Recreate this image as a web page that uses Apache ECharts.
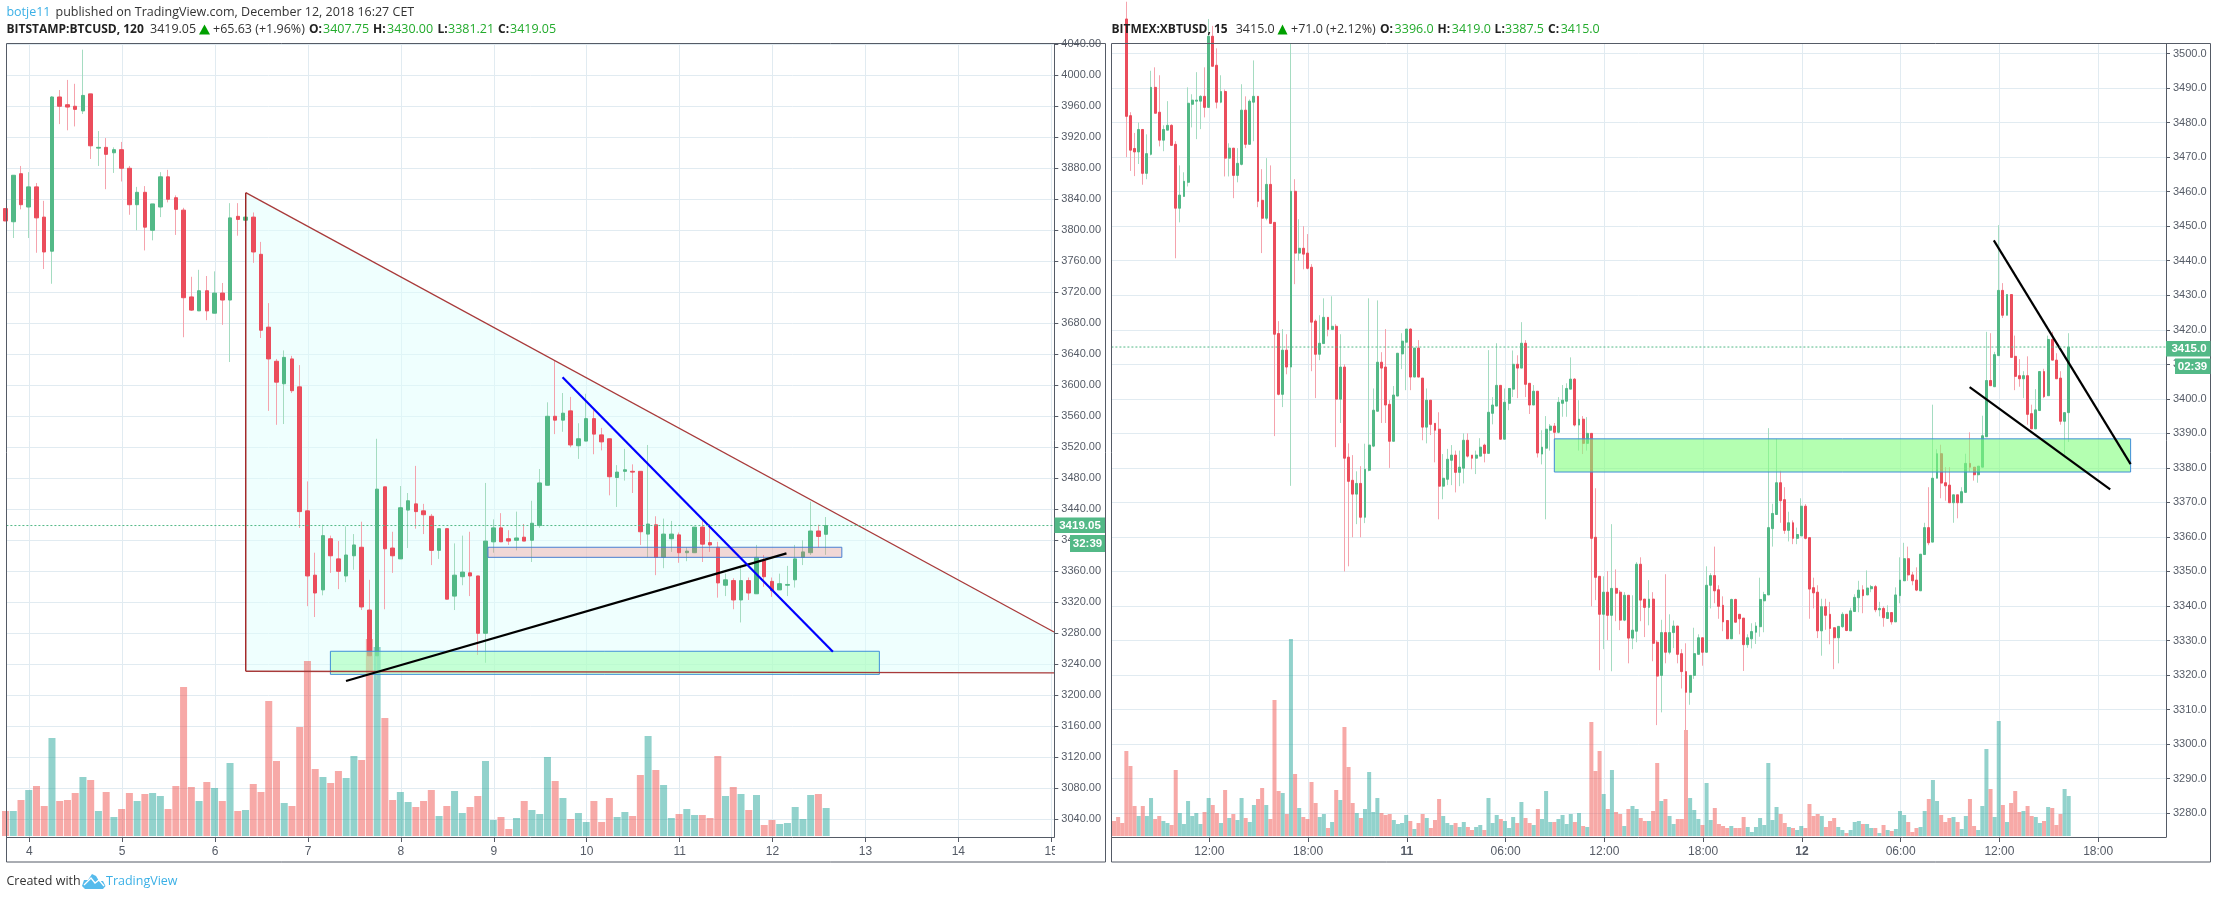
<!DOCTYPE html>
<html><head><meta charset="utf-8">
<style>html,body{margin:0;padding:0;background:#fff}#c{width:2217px;height:899px}</style>
<script src="https://cdn.jsdelivr.net/npm/echarts@6/dist/echarts.min.js"></script>
</head><body><div id="c"></div>
<script>
// Bitstamp 2h bars: [open, close, high, low]
const btcBars=[[3828,3812,3835,3805],[3811,3871,3871,3790],[3873,3833,3883,3827],[3830,3856,3875,3790],[3856,3816,3861,3771],[3817,3772,3838,3750],[3773,3972,3973,3731],[3972,3960,3981,3937],[3962,3959,3994,3929],[3960,3956,3989,3934],
[3954,3974,4033,3950],[3976,3909,3976,3892],[3906,3907,3928,3883],[3907,3898,3919,3853],[3900,3904,3907,3874],[3904,3880,3914,3863],[3880,3833,3883,3820],[3833,3849,3856,3800],[3849,3804,3857,3774],[3800,3834,3834,3787],
[3830,3869,3875,3817],[3869,3840,3878,3836],[3842,3827,3845,3794],[3826,3713,3829,3662],[3714,3697,3740,3696],[3696,3722,3749,3696],[3722,3696,3741,3684],[3693,3719,3747,3693],[3719,3710,3732,3678],[3710,3816,3835,3630],
[3818,3814,3835,3793],[3813,3817,3848,3805],[3817,3772,3823,3758],[3769,3671,3785,3661],[3675,3634,3706,3567],[3631,3604,3634,3549],[3602,3636,3645,3550],[3634,3593,3638,3590],[3598,3437,3626,3416],[3438,3354,3476,3315],
[3355,3332,3384,3301],[3336,3406,3420,3329],[3402,3380,3406,3358],[3376,3360,3399,3337],[3354,3381,3418,3346],[3380,3394,3408,3362],[3391,3314,3424,3310],[3310,3251,3349,3226],[3251,3466,3531,3220],[3469,3389,3469,3311],
[3390,3380,3411,3358],[3376,3442,3470,3376],[3439,3451,3461,3390],[3447,3437,3496,3415],[3438,3433,3447,3408],[3431,3387,3434,3368],[3387,3415,3415,3376],[3415,3324,3415,3324],[3328,3355,3396,3310],[3353,3359,3406,3342],
[3358,3354,3411,3328],[3354,3280,3354,3252],[3280,3399,3474,3242],[3398,3416,3427,3384],[3416,3398,3435,3398],[3402,3399,3413,3394],[3400,3403,3437,3387],[3404,3399,3421,3399],[3400,3422,3451,3372],[3419,3474,3492,3416],
[3471,3560,3578,3471],[3560,3555,3632,3537],[3555,3564,3590,3540],[3567,3523,3585,3520],[3522,3531,3551,3505],[3528,3557,3589,3528],[3557,3537,3568,3511],[3536,3527,3545,3516],[3531,3482,3531,3458],[3481,3488,3497,3443],
[3489,3491,3518,3477],[3489,3488,3498,3461],[3489,3411,3489,3394],[3408,3421,3523,3378],[3420,3378,3431,3355],[3378,3408,3428,3364],[3402,3408,3425,3385],[3407,3384,3410,3371],[3384,3386,3391,3373],[3384,3417,3417,3384],
[3417,3395,3427,3372],[3397,3394,3421,3385],[3391,3345,3398,3326],[3342,3349,3357,3328],[3348,3323,3351,3311],[3323,3348,3367,3294],[3348,3332,3352,3323],[3331,3378,3394,3331],[3374,3353,3381,3340],[3347,3335,3352,3327],
[3336,3344,3357,3336],[3342,3343,3367,3328],[3349,3376,3394,3339],[3378,3385,3400,3368],[3384,3412,3450,3381],[3412,3405,3420,3391],[3407.75,3419.05,3430,3381.21]];
const btcVolume=[25,25,36,46,50,30,98,35,36,43,59,56,25,44,19,27,43,35,42,43,40,27,50,149,49,35,54,48,35,73,25,26,52,44,135,75,33,30,109,175,67,59,53,65,58,80,76,197,189,118,36,44,34,29,35,46,20,30,45,23,29,40,75,16,19,7,18,35,26,22,79,55,38,17,23,14,35,14,38,19,24,20,61,100,66,51,18,22,27,21,21,18,80,40,49,42,26,41,11,16,12,13,29,17,41,42,28];
// BitMEX 15m bars: [open, close, high, low]
const xbtBars=[[3530,3525,3535,3520],[3525,3520,3530,3515],[3520,3515,3525,3510],[3510,3481.8,3515,3470],[3482,3472,3483,3466],[3472.5,3471.5,3477,3464.5],[3471.5,3478,3480,3468],[3478,3465.3,3478,3462],[3465.3,3471,3476.6,3463.6],[3470.8,3490.2,3495,3470.5],
[3490.2,3482.7,3496,3482.7],[3483,3474.9,3493.7,3473.1],[3474.9,3478,3479.2,3471.7],[3477.8,3479.2,3486.2,3477.8],[3479.2,3473.4,3479.5,3473.4],[3473.7,3455.2,3474.6,3440.7],[3455.2,3459,3467.6,3451.1],[3458.6,3463,3465.6,3458.6],[3462.7,3485.6,3490.2,3461.5],[3485.3,3486.5,3488.2,3478.6],
[3486.2,3486.5,3494.6,3475.2],[3486.2,3487.6,3487.9,3478.1],[3487.6,3484.4,3496,3481.5],[3484.4,3505,3510,3484.4],[3505,3496.3,3508,3496.3],[3496.6,3485.9,3501.5,3484.1],[3485.9,3489,3493.7,3485.6],[3489,3469.7,3489.6,3464.4],[3469.7,3472.6,3474,3464.4],[3472.6,3464.7,3472.6,3458.1],
[3464.7,3468.2,3472.6,3462.7],[3467.9,3483.6,3491.1,3467.6],[3483.6,3473.7,3487.6,3472.6],[3473.7,3486.2,3486.7,3473.7],[3485.9,3487.6,3498,3474.6],[3487.6,3457.2,3487.6,3455.5],[3457.5,3452.3,3466.5,3442.2],[3452.3,3462.1,3469.7,3451.7],[3462.1,3450.8,3467.6,3450.8],[3451.1,3418.7,3451.1,3389.2],
[3418.9,3401.3,3422.5,3401],[3401.3,3414.1,3420.2,3397.6],[3414.1,3409.2,3418.7,3407.1],[3409.2,3460.1,3503,3374.8],[3460.1,3442.2,3463.6,3433.2],[3442.2,3443.6,3452,3440],[3443.6,3441.9,3450,3437.5],[3442.2,3437.8,3447.7,3437.5],[3438.1,3422.2,3439,3408],[3422.5,3412.9,3423,3400.2],
[3412.9,3416.1,3424.2,3411.2],[3416,3423.6,3429.1,3416],[3423.6,3420.1,3423.6,3418.1],[3420.1,3421,3429.7,3420.1],[3421,3399.9,3421.6,3386],[3399.9,3409.2,3418.7,3393],[3409.2,3382.8,3410,3350],[3383.1,3376.1,3387.1,3351.5],[3376.4,3372.4,3383.7,3359.9],[3372.4,3375.5,3379,3363.7],
[3375.5,3365.7,3380.5,3359.9],[3365.7,3379.6,3387,3364],[3379.3,3386.6,3429.1,3379],[3386.3,3396.7,3403,3386],[3396.4,3410.6,3428.5,3396.4],[3410.6,3408.9,3413.5,3393],[3409.2,3398.2,3420.2,3393],[3398.4,3387.7,3399.6,3380],[3387.7,3401.1,3403.7,3387.7],[3400.8,3413.2,3413.2,3400.8],
[3413,3416.7,3419,3408.6],[3416.4,3420.2,3420.2,3402.5],[3420.2,3406.3,3420.4,3402.5],[3406.3,3414.7,3414.7,3406.3],[3414.7,3406.3,3417,3406.3],[3406,3391.8,3406,3388],[3391.8,3399.6,3403,3387.1],[3399.6,3392.6,3399.6,3389.5],[3392.9,3390.9,3392.9,3381.6],[3391.2,3374.7,3396.1,3365.1],
[3374.7,3377,3384,3370.9],[3376.7,3382.5,3385.5,3375],[3382.2,3383.7,3386.6,3375],[3383.7,3378.7,3385,3372.9],[3378.7,3380.2,3385,3374.7],[3379.9,3388,3390,3375.5],[3388,3383.4,3390,3383],[3383.7,3382.8,3383.7,3379.6],[3382.8,3383.7,3385,3378.2],[3383.4,3386,3388.6,3383.4],
[3386.6,3384.2,3387,3381.6],[3384.2,3396.1,3414.1,3384.2],[3395.8,3398.2,3400.5,3392.6],[3397.9,3403.9,3416.1,3397.9],[3403.9,3388.3,3403.9,3388.3],[3388.3,3399,3403,3388.3],[3398.7,3403,3403,3396.7],[3402.8,3410,3414,3400.5],[3410,3408.9,3412.6,3400.2],[3408.9,3416.1,3422.2,3408.9],
[3416.1,3404.2,3417,3400.5],[3404.5,3398.2,3404.5,3395.6],[3398.2,3402.2,3404,3398.2],[3402.2,3384.3,3402.2,3383],[3384,3386,3390.9,3381],[3385.7,3391.2,3395,3365.1],[3390.9,3392.1,3392.7,3385],[3392.1,3390.3,3393,3385],[3390.3,3399,3400.5,3390],[3398.7,3399.6,3404,3394.8],
[3399.3,3403,3404.5,3394.8],[3402.8,3405.7,3412,3402.8],[3405.7,3392.4,3406,3392],[3392.4,3394.1,3399.6,3385],[3394.1,3387.1,3395,3384],[3387.1,3390,3394.7,3385],[3390,3359.6,3390,3339.9],[3359.9,3348.3,3374.1,3341.7],[3348.6,3337.6,3348.6,3321.4],[3337.6,3344,3348.6,3327.5],
[3344,3337.3,3350.1,3330.1],[3337.3,3345.1,3363.7,3321.1],[3345.1,3343.7,3350.6,3335.6],[3344,3335.9,3344.6,3333],[3335.9,3343.1,3344,3335.6],[3343.1,3330.7,3343.1,3323.4],[3330.7,3333,3343.1,3327.5],[3332.7,3352.1,3352.7,3329.5],[3352.1,3341.7,3354.1,3335.6],[3342,3339.6,3342,3331],
[3339.6,3342,3347.5,3334.4],[3342,3329.2,3344,3324],[3329.5,3319.7,3330.1,3305.5],[3319.9,3332.3,3336,3309.2],[3332.3,3326.6,3349.2,3323.4],[3326.6,3332.3,3337.6,3326],[3332.3,3334.2,3335.8,3327.8],[3334.2,3326,3334.2,3323.4],[3326.2,3321,3327.5,3316.1],[3321,3315,3329.2,3304],
[3315,3319.9,3319.9,3311.4],[3319.9,3326.2,3333.7,3318.9],[3326,3330.8,3331.8,3326],[3330.8,3326.6,3330.8,3322.7],[3326.6,3346,3351.5,3326.6],[3346,3348.8,3349.5,3339.3],[3348.8,3344.4,3357.2,3340.8],[3344.7,3339.9,3346,3336.3],[3340.2,3335.4,3342.8,3332.7],[3335.8,3330.5,3335.8,3330.5],
[3330.5,3341.9,3342.1,3330.5],[3341.9,3335.3,3342.1,3335.3],[3337.6,3336.3,3337.6,3331.8],[3336.5,3328.8,3336.5,3321.2],[3328.8,3330.8,3331.8,3327.9],[3330.5,3332.6,3335,3327.7],[3332.4,3334.2,3335.3,3329],[3334,3341.9,3348.2,3331.1],[3341.5,3343.3,3344.1,3332.4],[3343.2,3362.7,3391.5,3343.2],
[3362.4,3366.8,3369.6,3357.2],[3366.5,3375.7,3388.4,3366.5],[3375.7,3370.5,3379.2,3364.1],[3370.8,3361.9,3374.4,3360.9],[3361.9,3364.1,3367.3,3358.7],[3364.1,3359.6,3364.8,3357.9],[3359.6,3360.7,3362.7,3357.9],[3360.3,3368.9,3371.2,3360.3],[3368.9,3359.6,3369.5,3359.3],[3359.8,3344.9,3359.8,3336.3],
[3345.3,3343.8,3348.2,3339.3],[3344,3332.8,3346,3330.7],[3332.8,3339.8,3342.1,3325.6],[3339.8,3337.3,3342.1,3333.1],[3337.6,3333.5,3341.2,3328.9],[3333.7,3330.8,3333.7,3321.7],[3330.8,3334.1,3334.1,3323.4],[3334,3337.6,3338.2,3333.7],[3337.6,3332.9,3337.6,3332.7],[3332.8,3338.6,3339.5,3332.8],
[3338.4,3342.5,3343.4,3338.4],[3342.4,3344.6,3347.3,3338.2],[3344.7,3343,3346,3337.9],[3343.2,3345.2,3350.3,3343.2],[3345,3345.6,3346.1,3344],[3345.6,3338.9,3346.1,3338.2],[3338.9,3339.3,3341.2,3337],[3339.3,3336.6,3339.9,3334],[3336.4,3338.1,3340.2,3336.4],[3338.1,3335.4,3338.1,3334.6],
[3335.4,3343.2,3345.4,3335.4],[3343,3347.5,3354.1,3340.8],[3347.3,3353.7,3358.3,3347.3],[3353.7,3349,3357.2,3347.3],[3349,3347.3,3349.9,3346],[3347.5,3344.6,3351.2,3344.3],[3344.4,3355,3355,3344.4],[3354.9,3362.7,3364.1,3354.9],[3362.7,3358.3,3374.4,3357.6],[3358.5,3377,3398.3,3358.5],
[3377,3384.1,3385.4,3377],[3384.1,3375.6,3386.7,3371.2],[3375.7,3374.8,3380.2,3370.5],[3375,3369.9,3380.2,3369.9],[3369.9,3372.2,3372.2,3364.1],[3372.2,3369.9,3372.2,3365.4],[3369.9,3373.1,3374.4,3369.9],[3372.9,3381.3,3384.1,3372.9],[3381.3,3380.2,3390.3,3378.9],[3380.2,3378,3380.2,3376.3],
[3378,3380.5,3380.5,3375.7],[3380.2,3389.3,3395.1,3380.2],[3389,3405.3,3419.4,3389],[3405.3,3403.8,3419,3403.8],[3403.5,3412.8,3413.6,3403.5],[3412.5,3431.4,3450.3,3412.5],[3431.4,3424.2,3433.5,3423.4],[3424.2,3430.2,3430.2,3424.2],[3430.2,3412,3430.2,3412],[3412.3,3406.5,3418.3,3402.5],
[3406.7,3405.8,3411.5,3403.5],[3405.8,3406.7,3408,3400.2],[3406.7,3395.5,3412.3,3392.5],[3395.7,3391.3,3398.3,3391.3],[3391.3,3396.8,3402.8,3391.3],[3396.6,3407.9,3408,3396.6],[3407.9,3400.6,3408.7,3400.2],[3400.9,3417.2,3418.3,3400.9],[3417.2,3411.2,3419.4,3411.2],[3411.2,3405.8,3413.2,3405.8],
[3406,3393.5,3408,3392.5],[3393.5,3396,3396,3383],[3396,3415,3419,3387.5]];
const xbtVolume=[15,19,13,85,70,30,20,30,20,38,17,20,15,13,11,66,23,12,35,20,23,12,24,38,31,23,13,46,18,22,16,38,18,14,31,37,48,31,17,136,45,43,22,197,62,28,19,17,54,33,19,22,8,14,46,36,109,69,33,23,18,27,64,24,38,23,21,22,16,12,13,21,15,7,13,22,18,8,16,37,20,13,11,13,9,14,9,6,9,11,6,38,13,21,17,15,8,19,13,34,18,13,11,27,17,45,14,14,17,21,12,22,14,23,10,9,114,65,85,42,27,66,24,22,10,27,30,27,18,15,15,25,73,35,
37,20,12,17,17,106,38,26,17,11,53,16,28,12,10,8,10,8,8,19,9,4,9,18,11,73,16,29,22,13,9,8,6,10,8,32,20,22,20,9,15,18,9,6,3,6,14,15,12,12,8,8,3,11,6,5,7,25,21,14,4,8,9,25,37,56,35,21,14,18,19,14,7,20,37,10,6,30,87,47,19,115,31,14,33,45,24,25,30,20,19,13,15,29,28,11,22,47,40];
// Axis ticks
const btcDayTicks=[4,5,6,7,8,9,10,11,12,13,14,15];
const btcPriceTicks=[3040,3080,3120,3160,3200,3240,3280,3320,3360,3400,3440,3480,3520,3560,3600,3640,3680,3720,3760,3800,3840,3880,3920,3960,4000,4040];
const xbtHourTicks=[12,18,24,30,36,42,48,54,60,66];
const xbtHourLabels=['12:00','18:00','{d|11}','06:00','12:00','18:00','{d|12}','06:00','12:00','18:00'];
const xbtPriceTicks=[3280,3290,3300,3310,3320,3330,3340,3350,3360,3370,3380,3390,3400,3410,3420,3430,3440,3450,3460,3470,3480,3490,3500];
// Drawings: [time, price] pairs
const btcTriangle=[[6.33,3848.5],[15.03,3281.6],[15.03,3229],[6.33,3231]];
const btcBlackLine=[[7.409,3218.5],[12.15,3383.1]];
const btcBlueLine=[[9.74,3610.5],[12.65,3256.3]];
const btcGreenBox=[[7.241,3256.8],[13.15,3227]];
const btcPinkBox=[[8.937,3391],[12.746,3378]];
const xbtGreenBox=[[32.96,3388.4],[67.97,3378.8]];
const xbtWedgeTop=[[59.66,3445.9],[67.97,3381.1]];
const xbtWedgeBottom=[[58.19,3403.4],[66.73,3373.8]];
const btcLast=3419.05, xbtLast=3415.0;

const UP='#53b987',DOWN='#eb4d5c',UPW='#a5dcc1',DOWNW='#f5a3ad',VUP='rgba(38,166,154,.5)',VDOWN='rgba(239,83,80,.5)';
const GRID='#e1ebf1',AX='#555b66',TXT='#555b66';
const AF='"Liberation Sans",Arial,sans-serif',HF='"Open Sans",sans-serif';

function candleSeries(bars,x0,step,ax,wBody,wVol,vol){
  const X=i=>x0+i*step;
  const wick=bars.map((b,i)=>[X(i),b[0],b[1],b[3],b[2]]);
  const body=bars.map((b,i)=>[X(i),b[0],b[1],Math.min(b[0],b[1]),Math.max(b[0],b[1])]);
  const v=vol.map((h,i)=>[X(i),h]);
  return [
    {type:'bar',xAxisIndex:ax,yAxisIndex:ax*2+1,data:v,barWidth:wVol,z:2,silent:true,animation:false,
      itemStyle:{color:p=>bars[p.dataIndex][1]>=bars[p.dataIndex][0]?VUP:VDOWN}},
    {type:'candlestick',xAxisIndex:ax,yAxisIndex:ax*2,data:wick,barWidth:1,z:3,silent:true,animation:false,
      itemStyle:{color:UPW,color0:DOWNW,borderColor:UPW,borderColor0:DOWNW,borderColorDoji:UPW,borderWidth:1}},
    {type:'candlestick',xAxisIndex:ax,yAxisIndex:ax*2,data:body,barWidth:wBody,z:4,silent:true,animation:false,
      itemStyle:{color:UP,color0:DOWN,borderColor:UP,borderColor0:DOWN,borderColorDoji:UP,borderWidth:1}}
  ];
}
function lineS(ax,pts,color,width,dash,z){
  return {type:'line',xAxisIndex:ax,yAxisIndex:ax*2,data:pts,symbol:'none',z:z||6,silent:true,animation:false,
    lineStyle:{color,width,type:dash||'solid'}};
}
function boxS(ax,pts,fill,stroke){
  return {type:'custom',xAxisIndex:ax,yAxisIndex:ax*2,z:5,silent:true,animation:false,clip:true,
    data:[[pts[0][0],pts[0][1],pts[1][0],pts[1][1]]],encode:{x:[0,2],y:[1,3]},
    renderItem:(p,api)=>{
      const a=api.coord(pts[0]),b=api.coord(pts[1]);
      return {type:'rect',shape:{x:a[0],y:a[1],width:b[0]-a[0],height:b[1]-a[1]},style:{fill,stroke,lineWidth:1}};
    }};
}
function polyS(ax,pts,fill){
  return {type:'custom',xAxisIndex:ax,yAxisIndex:ax*2,z:1,silent:true,animation:false,clip:true,
    data:pts,encode:{x:0,y:1},
    renderItem:(p,api)=>p.dataIndex===0?{type:'polygon',shape:{points:pts.map(q=>api.coord(q))},style:{fill}}:null};
}
function xAxis(gi,min,max,ticks,fmt){
  return {type:'value',gridIndex:gi,min,max,position:'bottom',
    axisLine:{onZero:false,lineStyle:{color:AX,width:1}},
    axisTick:{customValues:ticks,length:5,lineStyle:{color:AX}},
    axisLabel:{customValues:ticks,formatter:fmt,color:TXT,fontFamily:AF,fontSize:12,margin:9,rich:{d:{fontFamily:AF,fontSize:12,fontWeight:'bold',color:TXT}}},
    splitLine:{show:true,lineStyle:{color:GRID,width:1}}};
}
function yAxes(gi,min,max,ticks,dec,vmax){
  return [{type:'value',gridIndex:gi,min,max,position:'right',
      axisLine:{show:true,onZero:false,lineStyle:{color:AX,width:1}},
      axisTick:{show:true,customValues:ticks,length:4,lineStyle:{color:AX}},
      axisLabel:{customValues:ticks,formatter:v=>v.toFixed(dec),color:TXT,fontFamily:AF,fontSize:11,margin:7},
      splitLine:{show:true,lineStyle:{color:GRID,width:1}}},
    {type:'value',gridIndex:gi,min:-1,max:vmax,show:false,splitLine:{show:false}}];
}
const tx=(text,x,y,o)=>Object.assign({type:'text',z:100,silent:true,style:Object.assign({text,x,y,fill:'#333',font:'12.5px '+HF,textVerticalAlign:'middle'},o||{})});
const rc=(x,y,w,h,fill,stroke)=>({type:'rect',z:90,silent:true,shape:{x,y,width:w,height:h},style:{fill:fill||'none',stroke:stroke||'none',lineWidth:1}});
const GR='#22ab2c',B='bold 12px '+HF,G={fill:GR};
const bold={font:B,fill:'#222'};
const graphics=[
  tx('botje11',6.4,12.5,{fill:'#3bb0e6'}),
  tx('published on TradingView.com, December 12, 2018 16:27 CET',55.5,12.5),
  tx('BITSTAMP:BTCUSD, 120',6.4,29.5,bold),tx('3419.05',150,29.5),
  {type:'polygon',z:100,silent:true,shape:{points:[[199,34.5],[210,34.5],[204.5,24.5]]},style:{fill:'#00a000'}},
  tx('+65.63 (+1.96%)',213,29.5),
  tx('O:',309,29.5,bold),tx('3407.75',323,29.5,G),tx('H:',373,29.5,bold),tx('3430.00',387,29.5,G),
  tx('L:',437.5,29.5,bold),tx('3381.21',448,29.5,G),tx('C:',498,29.5,bold),tx('3419.05',510,29.5,G),
  tx('BITMEX:XBTUSD, 15',1111.4,29.5,bold),tx('3415.0',1235.7,29.5),
  {type:'polygon',z:100,silent:true,shape:{points:[[1277.5,34.5],[1287.5,34.5],[1282.5,24.5]]},style:{fill:'#00a000'}},
  tx('+71.0 (+2.12%)',1291,29.5),
  tx('O:',1380,29.5,bold),tx('3396.0',1394.6,29.5,G),tx('H:',1437.5,29.5,bold),tx('3419.0',1451.8,29.5,G),
  tx('L:',1494.6,29.5,bold),tx('3387.5',1505,29.5,G),tx('C:',1548,29.5,bold),tx('3415.0',1560.7,29.5,G),
  rc(1055,839,49,21,'#fff'),
  rc(6.5,43.5,1099,818.5,null,AX),rc(1111.5,43.5,1099,818.5,null,AX),
  rc(1054.5,517.5,50.5,15.5,UP),tx('3419.05',1080,525.5,{fill:'#fff',font:'bold 11.5px '+AF,textAlign:'center'}),
  rc(1070,535,35,17,UP),tx('32:39',1087.5,544,{fill:'#fff',font:'bold 11.5px '+AF,textAlign:'center'}),
  rc(2166,341,44.5,15.5,UP),tx('3415.0',2189,349,{fill:'#fff',font:'bold 11.5px '+AF,textAlign:'center'}),
  rc(2175,358.5,35.5,15.5,UP),tx('02:39',2192.5,366.5,{fill:'#fff',font:'bold 11.5px '+AF,textAlign:'center'}),
  tx('Created with',6.4,881.5,{font:'12.5px '+HF,fill:'#333'}),
  {type:'polygon',z:100,silent:true,shape:{points:[[82,886],[84,880],[88,880],[92,874],[96,876],[99,881],[103,881],[105.5,886],[103,889],[85,889]]},style:{fill:'#56bbec'}},
  {type:'polyline',z:101,silent:true,shape:{points:[[84,885],[91,878],[95,883],[99,880],[104,886]]},style:{stroke:'#fff',lineWidth:1.3,fill:'none'}},
  tx('TradingView',106,881.5,{font:'12.5px '+HF,fill:'#3bb0e6'})
];
const bx=[6.4,1054.3],rx=[1111.4,2166];
const btcMin=3.7535,btcMax=15.033,xbtMin=6.052,xbtMax=70.12;
const option={
  animation:false,backgroundColor:'#fff',
  grid:[{left:bx[0],top:43.5,width:bx[1]-bx[0],height:793.5,containLabel:false},
        {left:rx[0],top:43.5,width:rx[1]-rx[0],height:793.5,containLabel:false}],
  xAxis:[xAxis(0,btcMin,btcMax,btcDayTicks,v=>String(v)),
         xAxis(1,xbtMin,xbtMax,xbtHourTicks,v=>xbtHourLabels[xbtHourTicks.indexOf(v)])],
  yAxis:[...yAxes(0,3017.16,4041,btcPriceTicks,2,792.5),...yAxes(1,3273.1,3502.9,xbtPriceTicks,1,792.5)],
  series:[
    polyS(0,btcTriangle,'rgba(224,255,253,.5)'),
    ...candleSeries(btcBars,3.744,1/12,0,4,7,btcVolume),
    boxS(0,btcGreenBox,'rgba(154,255,172,.5)','#3f8fd8'),
    boxS(0,btcPinkBox,'rgba(245,110,110,.28)','#4a7fd1'),
    lineS(0,[btcTriangle[0],btcTriangle[1]],'#a83a3a',1.3),
    lineS(0,[btcTriangle[0],btcTriangle[3]],'#990f0f',1.3),
    lineS(0,[btcTriangle[3],btcTriangle[2]],'#a83a3a',1.3),
    lineS(0,btcBlackLine,'#000',2.2),
    lineS(0,btcBlueLine,'#0000ff',2.2),
    lineS(0,[[btcMin,btcLast],[btcMax,btcLast]],UP,1,[2,2],7),
    ...candleSeries(xbtBars,6.21,0.25,1,2.4,4,xbtVolume),
    boxS(1,xbtGreenBox,'rgba(130,255,125,.6)','#3f8fd8'),
    lineS(1,xbtWedgeTop,'#000',2.2),
    lineS(1,xbtWedgeBottom,'#000',2.2),
    lineS(1,[[xbtMin,xbtLast],[xbtMax,xbtLast]],UP,1,[2,2],7)
  ],
  graphic:{elements:graphics}
};
const chart=echarts.init(document.getElementById('c'),null,{renderer:'canvas',width:2217,height:899});
chart.setOption(option);
</script></body></html>
